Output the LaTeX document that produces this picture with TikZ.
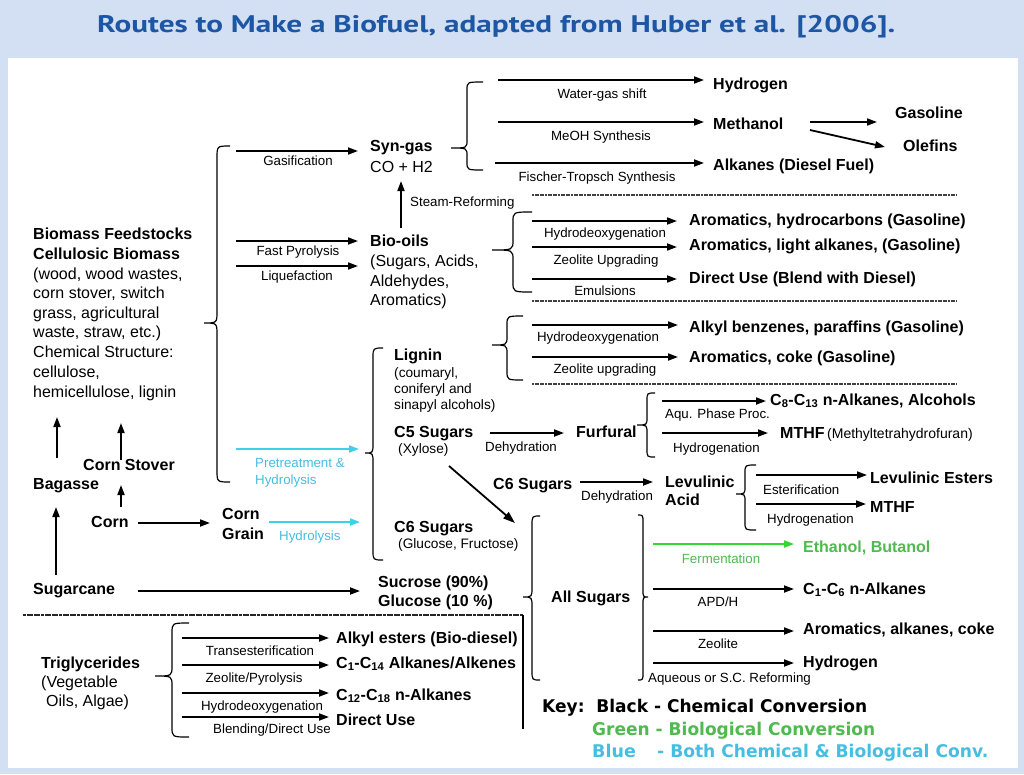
\documentclass[tikz,border=0pt]{standalone}
\usepackage{fontspec}
\setmainfont{Liberation Sans}
\newfontfamily\keyfnt{DejaVu Sans}
\newfontfamily\titlefnt{PT Sans}
\usetikzlibrary{arrows.meta}
\definecolor{bgblue}{RGB}{211,224,244}
\definecolor{titleblue}{RGB}{28,86,164}
\definecolor{cyanA}{RGB}{60,210,235}
\definecolor{cyanT}{RGB}{70,190,225}
\definecolor{greenA}{RGB}{50,215,50}
\definecolor{greenT}{RGB}{80,185,80}
\newcommand\fbig{\fontsize{16}{19}\selectfont}
\newcommand\fsm{\fontsize{13.3}{15}\selectfont}
\newcommand\flig{\fontsize{13.7}{16}\selectfont}
\newcommand\brc[8][]{\draw[brc,#1] (#2,#5) .. controls (#3,#5) .. (#3,{#5+#8}) -- (#3,{#6-#8}) .. controls (#3,#6) .. (#4,#6) .. controls (#3,#6) .. (#3,{#6+#8}) -- (#3,{#7-#8}) .. controls (#3,#7) .. (#2,#7);}
\newcommand\arw[6][]{\coordinate (#2s) at (#3,#4); \coordinate (#2e) at (#5,#6); \draw[arr,#1] (#2s) -- (#2e);}
\tikzset{
  arr/.style={line width=1.8pt, -{Triangle[length=10pt,width=7pt]}},
  brc/.style={line width=1.2pt},
  dots/.style={line width=1.2pt, black!75, dash pattern=on 2pt off 0.6pt},
  b/.style={anchor=base west, inner sep=0, font=\fbig\bfseries},
  r/.style={anchor=base west, inner sep=0, font=\fbig},
  lg/.style={anchor=base west, inner sep=0, font=\flig},
  sm/.style={anchor=base, inner sep=0, font=\fsm},
  smw/.style={anchor=base west, inner sep=0, font=\fsm},
}
\begin{document}
\begin{tikzpicture}[x=1pt,y=-1pt]
\useasboundingbox (0,0) rectangle (1024,774);
\fill[bgblue] (0,0) rectangle (1024,774);
\fill[white] (8,58) rectangle (1018,768);
\node[anchor=base west, inner sep=0, text=titleblue] (title) at (97,32) {\resizebox{798pt}{\height}{\titlefnt\bfseries\fontsize{24}{24}\selectfont Routes to Make a Biofuel, adapted from Huber et al. [2006].}};

% ---------- Syn-gas ----------
\node[b] (syn) at (370,151) {Syn-gas};
\node[r] (co) at (370,172) {CO + H2};
\brc{483}{467}{451}{82}{148}{170}{8}
\arw{a1}{498}{80}{704}{80}
\arw{a2}{498}{122}{704}{122}
\arw{a3}{495}{163}{704}{163}
\node[sm] (l1) at (602,98) {Water-gas shift};
\node[sm] (l2) at (601,140) {MeOH Synthesis};
\node[sm] (l3) at (597,181) {Fischer-Tropsch Synthesis};
\node[b] (hyd1) at (713,89) {Hydrogen};
\node[b] (meth) at (713,129) {Methanol};
\node[b] (alk) at (713,170) {Alkanes (Diesel Fuel)};
\node[b] (gas) at (895,118) {Gasoline};
\node[b] (ole) at (903,151) {Olefins};
\arw{a4}{810}{122}{877}{122}
\arw{a5}{810}{130}{885}{147}

% ---------- Bio-oils ----------
\node[b] (bio) at (370,246) {Bio-oils};
\node[r] at (370,266) {(Sugars, Acids,};
\node[r] at (370,286) {Aldehydes,};
\node[r] at (370,305) {Aromatics)};
\arw{st}{401}{228}{401}{181}
\node[smw] (steam) at (410,206) {Steam-Reforming};
\draw[dots] (532,195) -- (957,195);
\draw[dots] (532,301) -- (957,301);
\brc{532}{513}{492}{212}{250}{292}{10}
\arw{b1}{532}{221}{677}{221}
\arw{b2}{532}{247}{677}{247}
\arw{b3}{532}{279}{677}{279}
\node[sm] at (605,237) {Hydrodeoxygenation};
\node[sm] at (606,264) {Zeolite Upgrading};
\node[sm] at (605,295) {Emulsions};
\node[b] at (689,225) {Aromatics, hydrocarbons (Gasoline)};
\node[b] at (689,250) {Aromatics, light alkanes, (Gasoline)};
\node[b] at (689,283) {Direct Use (Blend with Diesel)};

% ---------- Lignin ----------
\brc{523}{507}{492}{316}{345}{380}{9}
\arw{c1}{532}{325}{678}{325}
\arw{c2}{532}{357}{678}{357}
\node[sm] at (598,341) {Hydrodeoxygenation};
\node[sm] at (605,373) {Zeolite upgrading};
\node[b] at (689,332) {Alkyl benzenes, paraffins (Gasoline)};
\node[b] at (689,362) {Aromatics, coke (Gasoline)};
\draw[dots] (532,384) -- (957,384);
\brc{383}{373}{365}{348}{453}{560}{10}
\node[b] (lig) at (394,360) {Lignin};
\node[lg] at (394,377) {(coumaryl,};
\node[lg] at (394,393) {coniferyl and};
\node[lg] at (394,409) {sinapyl alcohols)};
\node[b] (c5) at (394,437) {C5 Sugars};
\node[lg] at (398,453) {(Xylose)};
\arw{d1}{490}{433}{564}{433}
\node[sm] at (521,451) {Dehydration};
\node[b] (furf) at (576,437) {Furfural};
\brc{655}{647}{637}{393}{425}{457}{8}
\arw{e1}{662}{401}{766}{401}
\arw{e2}{662}{433}{768}{433}
\node[smw] at (665,418) {Aqu. Phase Proc.};
\node[smw] at (673,452) {Hydrogenation};
\node[b] at (770,405) {C\textsubscript{8}-C\textsubscript{13} n-Alkanes, Alcohols};
\node[b] (mthf1) at (780,438) {MTHF};
\node[anchor=base west, inner sep=0, font=\fontsize{14}{16}\selectfont] at (827,438) {(Methyltetrahydrofuran)};
\arw[-{Triangle[length=12pt,width=8pt]}]{dg}{449}{466}{515}{523}
\node[b] (c6m) at (493,489) {C6 Sugars};
\arw{f1}{580}{482}{653}{482}
\node[smw] at (581,500) {Dehydration};
\node[b] (lev) at (665,487) {Levulinic};
\node[b] at (665,505) {Acid};
\brc{756}{745}{736}{465}{494}{530}{8}
\arw{g1}{756}{475}{867}{475}
\arw{g2}{756}{504}{866}{504}
\node[smw] at (763,494) {Esterification};
\node[smw] at (767,523) {Hydrogenation};
\node[b] at (870,483) {Levulinic Esters};
\node[b] at (870,512) {MTHF};
\node[b] (c6) at (394,532) {C6 Sugars};
\node[lg] at (398,548) {(Glucose, Fructose)};

% ---------- Biomass ----------
\node[b] (biom) at (33,239) {Biomass Feedstocks};
\node[b] at (33,259) {Cellulosic Biomass};
\node[r] at (33,279) {(wood, wood wastes,};
\node[r] at (33,298) {corn stover, switch};
\node[r] at (33,318) {grass, agricultural};
\node[r] at (33,337) {waste, straw, etc.)};
\node[r] at (33,357) {Chemical Structure:};
\node[r] at (33,377) {cellulose,};
\node[r] at (33,397) {hemicellulose, lignin};
\brc{230}{217}{204}{146}{323}{482}{12}
\arw{h1}{236}{151}{358}{151}
\node[sm] at (298,165) {Gasification};
\arw{h2}{236}{241}{358}{241}
\node[sm] at (298,255) {Fast Pyrolysis};
\arw{h3}{236}{266}{358}{266}
\node[sm] at (297,280) {Liquefaction};
\arw[cyanA]{h4}{236}{449}{359}{449}
\node[smw,text=cyanT] at (255,467) {Pretreatment \&};
\node[smw,text=cyanT] at (255,484) {Hydrolysis};
\arw{u1}{57}{458}{57}{417}
\arw{u2}{121}{460}{121}{423}
\node[b] (stover) at (83,470) {Corn Stover};
\node[b] (bag) at (33,489) {Bagasse};
\arw{u3}{121}{507}{121}{485}
\arw{u4}{56}{575}{56}{507}
\node[b] (corn) at (91,527) {Corn};
\arw{k1}{138}{523}{210}{523}
\node[b] (grain) at (222,519) {Corn};
\node[b] at (222,539) {Grain};
\arw[cyanA]{k2}{269}{522}{360}{522}
\node[smw,text=cyanT] at (279,540) {Hydrolysis};
\node[b] (cane) at (33,594) {Sugarcane};
\arw{k3}{138}{591}{360}{591}
\node[b] (sucr) at (378,587) {Sucrose (90\%)};
\node[b] at (378,606) {Glucose (10 \%)};
\draw[line width=2pt, black!85, dash pattern=on 3pt off 0.6pt] (23,615) -- (523,615);
\draw[line width=1.6pt] (523,615) -- (523,729);

% ---------- All sugars ----------
\brc{540}{532}{523}{516}{597}{680}{10}
\brc{638}{643}{648}{515}{597}{680}{8}
\node[b] (alls) at (551,602) {All Sugars};
\arw[greenA]{m1}{653}{544}{794}{544}
\node[sm,text=greenT] at (721,563) {Fermentation};
\node[b,text=greenT] at (803,552) {Ethanol, Butanol};
\arw{m2}{653}{589}{794}{589}
\node[sm] at (718,606) {APD/H};
\node[b] at (803,594) {C\textsubscript{1}-C\textsubscript{6} n-Alkanes};
\arw{m3}{653}{631}{794}{631}
\node[sm] at (718,648) {Zeolite};
\node[b] at (803,634) {Aromatics, alkanes, coke};
\arw{m4}{653}{663}{794}{663}
\node[smw] at (648,682) {Aqueous or S.C. Reforming};
\node[b] at (803,667) {Hydrogen};

% ---------- Triglycerides ----------
\node[b] (tri) at (41,668) {Triglycerides};
\node[r] at (41,687) {(Vegetable};
\node[r] at (46,706) {Oils, Algae)};
\brc{189}{172}{155}{623}{676}{737}{10}
\arw{t1}{182}{638}{329}{638}
\arw{t2}{182}{665}{329}{665}
\arw{t3}{182}{693}{329}{693}
\arw{t4}{182}{717}{329}{717}
\node[sm] at (260,655) {Transesterification};
\node[sm] at (254,682) {Zeolite/Pyrolysis};
\node[sm] at (262,710) {Hydrodeoxygenation};
\node[sm] at (272,733) {Blending/Direct Use};
\node[b] at (336,643) {Alkyl esters (Bio-diesel)};
\node[b] at (336,668) {C\textsubscript{1}-C\textsubscript{14} Alkanes/Alkenes};
\node[b] at (336,700) {C\textsubscript{12}-C\textsubscript{18} n-Alkanes};
\node[b] at (336,725) {Direct Use};

% ---------- Key ----------
\node[anchor=base west, inner sep=0] (key1) at (542,712) {\resizebox{325pt}{\height}{\keyfnt\bfseries\fontsize{17.5}{20}\selectfont Key:\ \ Black - Chemical Conversion}};
\node[anchor=base west, inner sep=0, text=greenT] (key2) at (592,735) {\resizebox{283pt}{\height}{\keyfnt\bfseries\fontsize{17.5}{20}\selectfont Green - Biological Conversion}};
\node[anchor=base west, inner sep=0, text=cyanT] (key3) at (592,757) {\keyfnt\bfseries\fontsize{17.5}{20}\selectfont Blue};
\node[anchor=base west, inner sep=0, text=cyanT] (key4) at (657,757) {\resizebox{331pt}{\height}{\keyfnt\bfseries\fontsize{17.5}{20}\selectfont - Both Chemical \& Biological Conv.}};
\end{tikzpicture}
\end{document}
